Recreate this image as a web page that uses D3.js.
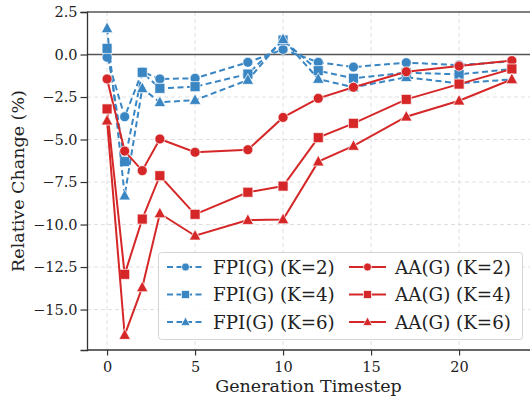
<!DOCTYPE html>
<html>
<head>
<meta charset="utf-8">
<script src="https://cdn.jsdelivr.net/npm/d3@7"></script>
<style>
  body { margin: 0; background: #fff; }
  text { font-family: "DejaVu Serif", serif; }
</style>
</head>
<body>
<div id="chart"></div>
<script>
const steps = [0, 1, 2, 3, 5, 8, 10, 12, 14, 17, 20, 23];

const fpiK2 = [-0.16, -3.66, -1.01, -1.44, -1.4, -0.46, 0.3, -0.46, -0.74, -0.48, -0.62, -0.4];
const fpiK4 = [0.36, -6.3, -1.05, -1.99, -1.89, -1.15, 0.85, -0.95, -1.4, -1.07, -1.17, -0.85];
const fpiK6 = [1.54, -8.3, -1.99, -2.81, -2.68, -1.5, 0.9, -1.44, -1.93, -1.34, -1.7, -1.46];
const aaK2 = [-1.44, -5.68, -6.83, -4.97, -5.75, -5.6, -3.7, -2.58, -1.93, -1.01, -0.68, -0.36];
const aaK4 = [-3.2, -12.93, -9.68, -7.13, -9.4, -8.1, -7.74, -4.89, -4.05, -2.64, -1.74, -0.85];
const aaK6 = [-3.89, -16.5, -13.7, -9.35, -10.66, -9.74, -9.7, -6.3, -5.38, -3.66, -2.72, -1.46];

const xTicks = [0, 5, 10, 15, 20];
const yTicks = [2.5, 0, -2.5, -5, -7.5, -10, -12.5, -15];

const series = [
  { name: "FPI(G) (K=2)", values: fpiK2, color: "#3a86c3", marker: "circle", dash: "6,3.5" },
  { name: "FPI(G) (K=4)", values: fpiK4, color: "#3a86c3", marker: "square", dash: "6,3.5" },
  { name: "FPI(G) (K=6)", values: fpiK6, color: "#3a86c3", marker: "triangle", dash: "6,3.5" },
  { name: "AA(G) (K=2)", values: aaK2, color: "#d62728", marker: "circle", dash: null },
  { name: "AA(G) (K=4)", values: aaK4, color: "#d62728", marker: "square", dash: null },
  { name: "AA(G) (K=6)", values: aaK6, color: "#d62728", marker: "triangle", dash: null }
];

const width = 530, height = 404;
const mLeft = 87, mRight = 530, mTop = 12, mBottom = 350;

const svg = d3.select("#chart").append("svg")
  .attr("width", width)
  .attr("height", height);

const x = d3.scaleLinear().domain([-1.14, 24.03]).range([mLeft, mRight]);
const y = d3.scaleLinear().domain([2.5, -17.38]).range([mTop, mBottom]);

svg.append("defs").append("clipPath").attr("id", "clip")
  .append("rect").attr("x", mLeft).attr("y", mTop - 8)
  .attr("width", mRight - mLeft).attr("height", mBottom - mTop + 8);

// grid
const grid = svg.append("g");
grid.selectAll(".gx").data(xTicks).enter().append("line")
  .attr("x1", d => x(d)).attr("x2", d => x(d))
  .attr("y1", mTop).attr("y2", mBottom)
  .attr("stroke", "#dcdcdc").attr("stroke-width", 0.9).attr("stroke-dasharray", "4,3");
grid.selectAll(".gy").data(yTicks.filter(d => d !== 0 && d !== 2.5)).enter().append("line")
  .attr("x1", mLeft).attr("x2", mRight)
  .attr("y1", d => y(d)).attr("y2", d => y(d))
  .attr("stroke", "#dcdcdc").attr("stroke-width", 0.9).attr("stroke-dasharray", "4,3");

// zero line and top edge
svg.append("line").attr("x1", mLeft).attr("x2", mRight)
  .attr("y1", y(0)).attr("y2", y(0))
  .attr("stroke", "#555").attr("stroke-width", 1.4);
svg.append("line").attr("x1", mLeft).attr("x2", mRight)
  .attr("y1", y(2.5)).attr("y2", y(2.5))
  .attr("stroke", "#555").attr("stroke-width", 1.4);

// axes
const xAxis = svg.append("g")
  .attr("transform", `translate(0,${mBottom})`)
  .call(d3.axisBottom(x).tickValues(xTicks).tickSize(5.5).tickPadding(6).tickFormat(d3.format("d")));
const yAxis = svg.append("g")
  .attr("transform", `translate(${mLeft},0)`)
  .call(d3.axisLeft(y).tickValues(yTicks).tickSize(6.5).tickPadding(3)
    .tickFormat(d => (d < 0 ? "\u2212" : "") + Math.abs(d).toFixed(1)));

[xAxis, yAxis].forEach(a => {
  a.select(".domain").attr("stroke", "#333").attr("stroke-width", 1.3);
  a.selectAll(".tick line").attr("stroke", "#333").attr("stroke-width", 1.2);
  a.selectAll(".tick text").attr("fill", "#222").style("font-size", "14.5px")
    .style("font-family", "DejaVu Serif, serif");
});
xAxis.select(".domain").attr("d", `M${mLeft},0H${mRight}`);

svg.append("text")
  .attr("x", (mLeft + mRight) / 2).attr("y", 392)
  .attr("text-anchor", "middle")
  .style("font-size", "17.5px").attr("fill", "#222")
  .text("Generation Timestep");

svg.append("text")
  .attr("transform", `translate(24,${(mTop + mBottom) / 2}) rotate(-90)`)
  .attr("text-anchor", "middle")
  .style("font-size", "17.5px").attr("fill", "#222")
  .text("Relative Change (%)");

function drawMarker(g, type, cx, cy, color, s) {
  if (type === "circle") {
    g.append("circle").attr("cx", cx).attr("cy", cy).attr("r", s)
      .attr("fill", color).attr("stroke", "#fff").attr("stroke-opacity", 0.7).attr("stroke-width", 1);
  } else if (type === "square") {
    g.append("rect").attr("x", cx - s).attr("y", cy - s).attr("width", 2 * s).attr("height", 2 * s)
      .attr("fill", color).attr("stroke", "#fff").attr("stroke-opacity", 0.7).attr("stroke-width", 1);
  } else {
    const h = s * 1.15;
    g.append("path")
      .attr("d", `M${cx},${cy - h * 1.1}L${cx + h},${cy + h * 0.75}L${cx - h},${cy + h * 0.75}Z`)
      .attr("fill", color).attr("stroke", "#fff").attr("stroke-opacity", 0.7).attr("stroke-width", 1);
  }
}

const line = d3.line().x(d => x(d[0])).y(d => y(d[1]));
const plot = svg.append("g").attr("clip-path", "url(#clip)");

series.forEach(s => {
  const pts = steps.map((t, i) => [t, s.values[i]]);
  plot.append("path")
    .attr("d", line(pts))
    .attr("fill", "none")
    .attr("stroke", s.color)
    .attr("stroke-width", 2)
    .attr("stroke-dasharray", s.dash);
  const mg = plot.append("g");
  pts.forEach(p => drawMarker(mg, s.marker, x(p[0]), y(p[1]), s.color, 5));
});

// legend
const lg = svg.append("g");
lg.append("rect")
  .attr("x", 158.5).attr("y", 252.5).attr("width", 364).attr("height", 87).attr("rx", 3)
  .attr("fill", "#fff").attr("fill-opacity", 0.85)
  .attr("stroke", "#d5d5d5").attr("stroke-width", 1);

series.forEach((s, i) => {
  const col = Math.floor(i / 3), row = i % 3;
  const x0 = col === 0 ? 167 : 349;
  const cy = 267 + row * 27.5;
  lg.append("line")
    .attr("x1", x0).attr("x2", x0 + 37)
    .attr("y1", cy).attr("y2", cy)
    .attr("stroke", s.color).attr("stroke-width", 2)
    .attr("stroke-dasharray", s.dash);
  drawMarker(lg, s.marker, x0 + 18.5, cy, s.color, 4);
  lg.append("text")
    .attr("x", x0 + 46).attr("y", cy + 6.5)
    .style("font-size", "18.3px").attr("fill", "#222")
    .text(s.name);
});
</script>
</body>
</html>
